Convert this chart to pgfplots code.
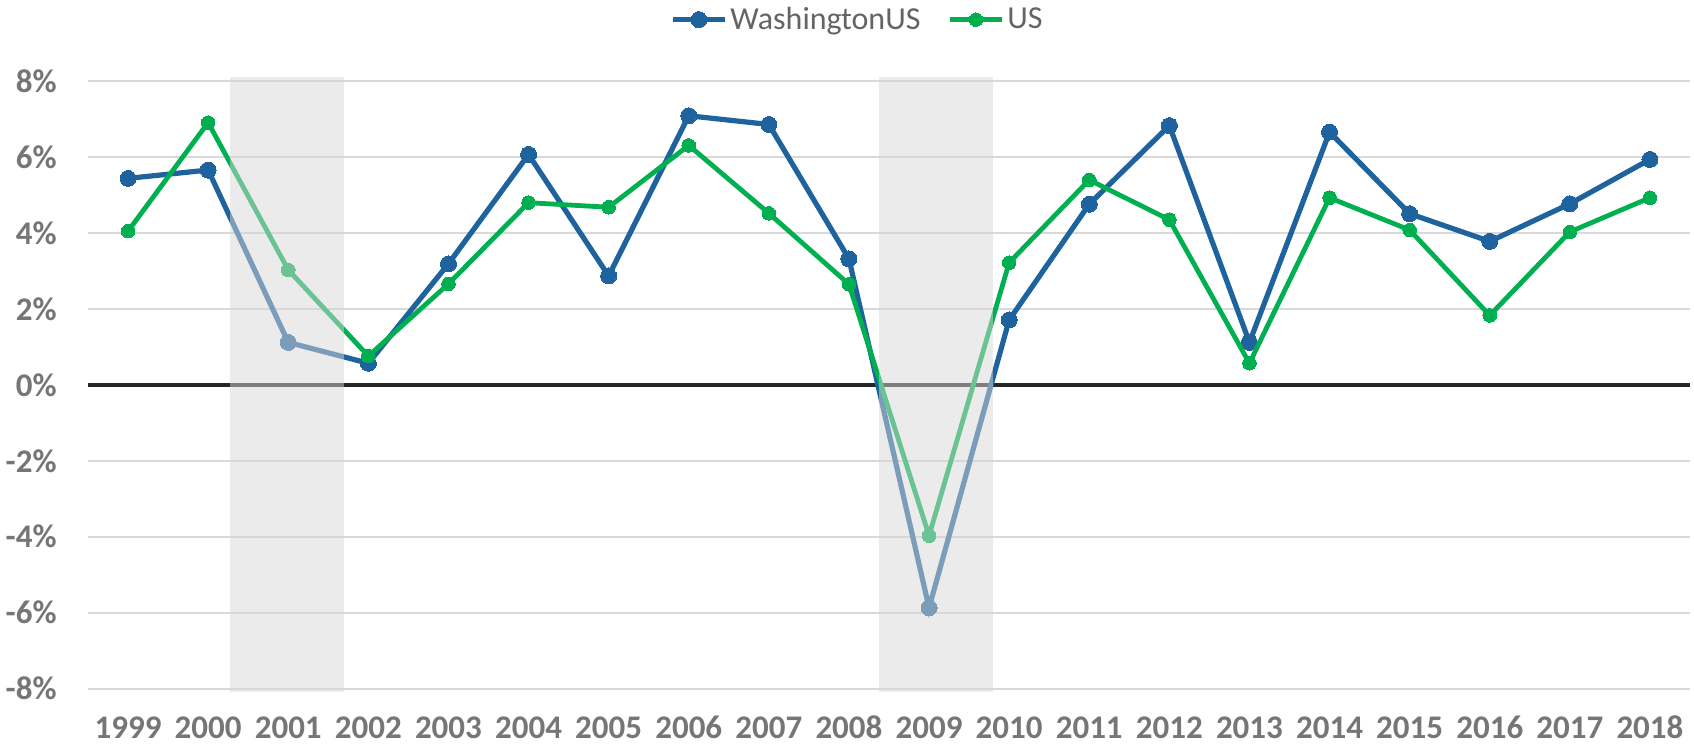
\documentclass[border=0pt]{standalone}
\usepackage{pgfplots}
\pgfplotsset{compat=1.18}
\usepackage{fontspec}
\setmainfont{Carlito}
\definecolor{wa}{RGB}{31,99,158}
\definecolor{us}{RGB}{0,176,80}
\definecolor{gridc}{RGB}{217,217,217}
\definecolor{tickc}{RGB}{118,118,118}
\definecolor{legc}{RGB}{100,100,100}
\definecolor{bandc}{RGB}{215,215,215}
\definecolor{zeroc}{RGB}{38,38,38}
\begin{document}
\begin{tikzpicture}
\begin{axis}[
  at={(0,0)}, anchor=south west,
  scale only axis, width=801bp, height=307.5bp,
  xmin=1998.5, xmax=2018.5, ymin=-8.1, ymax=8.1,
  clip mode=individual,
  axis line style={draw=none}, major tick length=0pt,
  ytick={-8,-6,-4,-2,0,2,4,6,8},
  yticklabels={-8\%,-6\%,-4\%,-2\%,0\%,2\%,4\%,6\%,8\%},
  xtick={1999,2000,2001,2002,2003,2004,2005,2006,2007,2008,2009,2010,2011,2012,2013,2014,2015,2016,2017,2018},
  xticklabels={1999,2000,2001,2002,2003,2004,2005,2006,2007,2008,2009,2010,2011,2012,2013,2014,2015,2016,2017,2018},
  ymajorgrids, grid style={gridc, line width=1bp},
  tick label style={font=\fontsize{16.5bp}{19bp}\selectfont\bfseries, text=tickc},
  yticklabel style={anchor=east, inner sep=0pt, xshift=-15.5bp},
  xticklabel style={anchor=base, inner sep=0pt, yshift=-23.3bp},
  legend style={at={(0.4806,1.094)}, anchor=center, draw=none, fill=none,
    legend columns=-1, font=\fontsize{16bp}{19bp}\selectfont, text=legc,
    nodes={inner sep=1.5bp},
    /tikz/every even column/.append style={column sep=12bp}},
  legend image code/.code={\draw[mark repeat=2,mark phase=2,#1] plot coordinates {(0bp,0bp) (13bp,0bp) (26bp,0bp)};},
]
\addplot[forget plot, zeroc, line width=1.7bp] coordinates {(1998.5,0) (2018.5,0)};
\addplot[wa, line width=2.6bp, mark=*, mark size=4bp, mark options={solid, fill=wa, draw=wa, line width=0pt}] coordinates {
(1999,5.44) (2000,5.66) (2001,1.12) (2002,0.57) (2003,3.19) (2004,6.07) (2005,2.87) (2006,7.09) (2007,6.86) (2008,3.32)
(2009,-5.87) (2010,1.71) (2011,4.76) (2012,6.83) (2013,1.12) (2014,6.66) (2015,4.51) (2016,3.78) (2017,4.77) (2018,5.94)};
\addlegendentry{WashingtonUS}
\addplot[us, line width=2.4bp, mark=*, mark size=3.4bp, mark options={solid, fill=us, draw=us, line width=0pt}] coordinates {
(1999,4.05) (2000,6.91) (2001,3.03) (2002,0.76) (2003,2.66) (2004,4.80) (2005,4.68) (2006,6.31) (2007,4.52) (2008,2.65)
(2009,-3.97) (2010,3.22) (2011,5.40) (2012,4.35) (2013,0.57) (2014,4.93) (2015,4.08) (2016,1.83) (2017,4.03) (2018,4.93)};
\addlegendentry{US}
\addplot[forget plot, draw=none, fill=bandc, fill opacity=0.5] coordinates {(2000.27,-8.1) (2001.7,-8.1) (2001.7,8.1) (2000.27,8.1)} -- cycle;
\addplot[forget plot, draw=none, fill=bandc, fill opacity=0.5] coordinates {(2008.37,-8.1) (2009.8,-8.1) (2009.8,8.1) (2008.37,8.1)} -- cycle;
\end{axis}
\pgfresetboundingbox
\path[use as bounding box] (-44bp,-25.8bp) rectangle (803bp,346.2bp);
\end{tikzpicture}
\end{document}
